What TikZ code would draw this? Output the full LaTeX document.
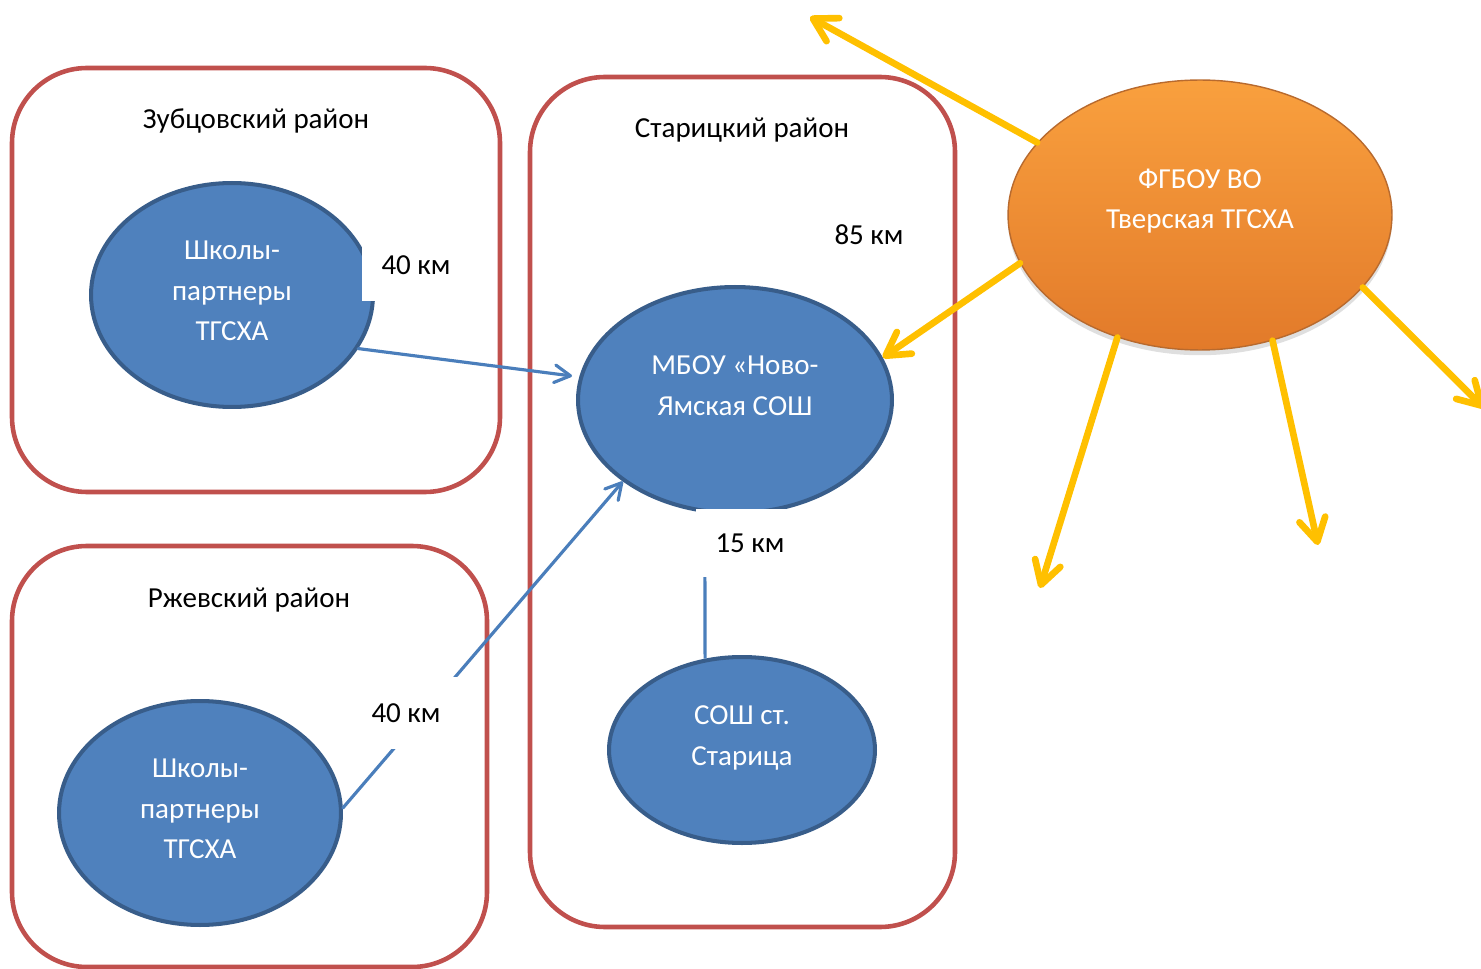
\documentclass[tikz,border=0pt]{standalone}
\usepackage{fontspec}
\setmainfont{Carlito}
\usepackage{tikz}
\usetikzlibrary{arrows.meta,shapes.geometric,shadows}

\definecolor{regionred}{HTML}{C0504D}
\definecolor{schoolblue}{HTML}{4F81BD}
\definecolor{schoolborder}{HTML}{385D8A}
\definecolor{routeblue}{HTML}{4A7EBB}
\definecolor{rayyellow}{HTML}{FFC000}
\definecolor{academytop}{HTML}{F9A03E}
\definecolor{academymid}{HTML}{F7952F}
\definecolor{academybottom}{HTML}{E27A2A}
\definecolor{academyedge}{HTML}{B86A2E}

\begin{document}
\begin{tikzpicture}[x=0.02cm,y=-0.02cm,
  font=\fontsize{16.5}{23.2}\selectfont,
  region/.style={draw=regionred,line width=2.6pt,rounded corners=1.5cm},
  school/.style={ellipse,draw=schoolborder,fill=schoolblue,line width=2.3pt},
  intext/.style={text=white,align=center},
  dist/.style={fill=white,minimum width=2.16cm,minimum height=1.44cm},
  route/.style={draw=routeblue,line width=1.8pt},
  routearrow/.style={route,line cap=round,-{Straight Barb[length=9pt,width=10pt,round]}},
  ray/.style={draw=rayyellow,line width=3.8pt,line cap=round,-{Straight Barb[length=13pt,width=15pt,round]}}]
\useasboundingbox (0,0) rectangle (1481,969);

\coordinate (z) at (232,295);
\coordinate (m) at (735,400);
\coordinate (s) at (742,750);
\coordinate (r) at (200,813);
\coordinate (f) at (1200,215);
\coordinate (zubtip) at (572,376);
\coordinate (t1) at (810,17);
\coordinate (t3) at (1040,588);
\coordinate (t4) at (1318,545);
\coordinate (t5) at (1484,408);

\draw[region] (12,68) rectangle (500,492);
\draw[region] (530,77) rectangle (955,927);
\draw[region] (12,546) rectangle (487,967);

\node (zubname) at (256,121) {Зубцовский район};
\node (starname) at (742,130) {Старицкий район};
\node (rzhname) at (249,600) {Ржевский район};

\node[school,minimum width=5.64cm,minimum height=4.48cm] (zub) at (z) {};
\node[school,minimum width=5.64cm,minimum height=4.48cm] (rzh) at (r) {};
\node[school,minimum width=6.28cm,minimum height=4.52cm] (mbou) at (m) {};
\node[school,minimum width=5.32cm,minimum height=3.72cm] (star) at (s) {};
\node[ellipse,draw=academyedge,line width=0.8pt,top color=academytop,middle color=academymid,bottom color=academybottom,
  drop shadow={shadow xshift=0pt,shadow yshift=-3pt,opacity=0.25},
  minimum width=7.68cm,minimum height=5.4cm] (tgsha) at (f) {};

\node[intext] (zubtext) at (232,291) {Школы-\\партнеры\\ТГСХА};
\node[intext] (rzhtext) at (200,809) {Школы-\\партнеры\\ТГСХА};
\node[intext] (mboutext) at (735,386) {МБОУ «Ново-\\Ямская СОШ};
\node[intext] (startext) at (742,738) {СОШ ст.\\Старица};
\node[intext] (tgshatext) at (1200,201) {ФГБОУ ВО\\Тверская ТГСХА};

\draw[routearrow] (zub.-23) -- (zubtip);
\draw[routearrow] (rzh.2) -- (mbou.216);
\draw[route] (mbou.255) -- (star.112);

\foreach \a/\t in {156/t1,195/mbou.16,236/t3,300/t4,336/t5}
  \draw[ray] (tgsha.\a) -- (\t);

\node[dist] (d1) at (416,265) {40 км};
\node[dist] (d2) at (869,235) {85 км};
\node[dist,minimum height=1.36cm] (d3) at (750,543) {15 км};
\node[dist] (d4) at (406,713) {40 км};
\end{tikzpicture}
\end{document}
